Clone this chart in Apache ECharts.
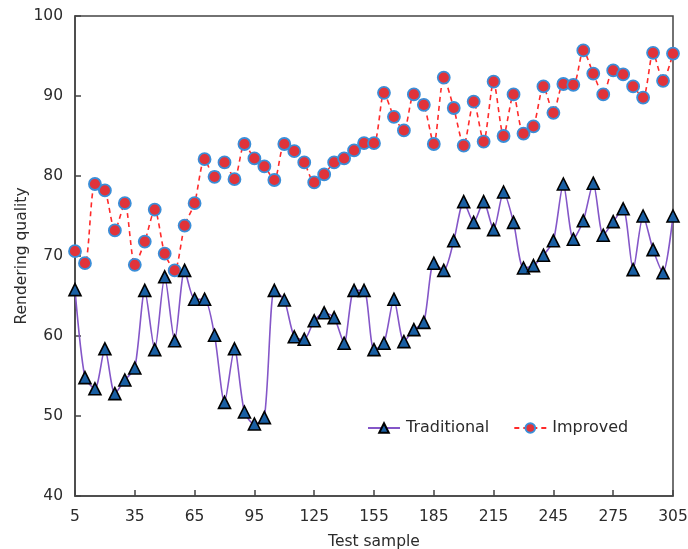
<!DOCTYPE html>
<html>
<head>
<meta charset="utf-8">
<script src="https://cdn.jsdelivr.net/npm/echarts@6/dist/echarts.min.js"></script>
<style>
html,body{margin:0;padding:0;background:#fff;}
#chart{width:688px;height:549px;}
</style>
</head>
<body>
<div id="chart"></div>
<script>
var categories = [5,10,15,20,25,30,35,40,45,50,55,60,65,70,75,80,85,90,95,100,105,110,115,120,125,130,135,140,145,150,155,160,165,170,175,180,185,190,195,200,205,210,215,220,225,230,235,240,245,250,255,260,265,270,275,280,285,290,295,300,305];
var traditional = [65.8,54.8,53.4,58.4,52.8,54.5,56.0,65.7,58.3,67.4,59.4,68.2,64.6,64.6,60.1,51.7,58.4,50.5,49.0,49.8,65.7,
  64.5,59.9,59.6,61.9,62.9,62.3,59.1,65.7,65.7,58.3,59.1,64.6,59.3,60.8,61.7,69.1,68.2,71.9,
  76.8,74.2,76.8,73.3,78.0,74.2,68.5,68.8,70.1,71.9,79.0,72.1,74.4,79.1,72.6,74.3,75.9,68.3,75.0,70.8,67.9,75.0];
var improved = [70.6,69.1,79.0,78.2,73.2,76.6,68.9,71.8,75.8,70.3,68.2,73.8,76.6,82.1,79.9,81.7,79.6,84.0,82.2,81.2,79.5,
  84.0,83.1,81.7,79.2,80.2,81.7,82.2,83.2,84.1,84.1,90.4,87.4,85.7,90.2,88.9,84.0,92.3,88.5,
  83.8,89.3,84.3,91.8,85.0,90.2,85.3,86.2,91.2,87.9,91.5,91.4,95.7,92.8,90.2,93.2,92.7,91.2,89.8,95.4,91.9,95.3];
var seriesNames = ['Traditional','Improved'];
var xAxisName = 'Test sample';
var yAxisName = 'Rendering quality';

var font = 'DejaVu Sans';
var textColor = '#2b2b2b';
var chart = echarts.init(document.getElementById('chart'), null, {renderer:'canvas'});
chart.setOption({
  animation:false,
  backgroundColor:'#fff',
  textStyle:{fontFamily:font},
  grid:{left:75,right:15,top:16,bottom:53,containLabel:false,outerBoundsMode:'none',show:true,borderColor:'#444',borderWidth:1.5,backgroundColor:'transparent'},
  legend:{
    left:362, top:415,
    itemWidth:32, itemHeight:12, itemGap:24,
    textStyle:{fontFamily:font,fontSize:16,color:textColor,padding:[0,0,0,1]},
    data:seriesNames
  },
  xAxis:{
    type:'category', data:categories, boundaryGap:false,
    name:xAxisName, nameLocation:'middle', nameGap:38,
    nameTextStyle:{fontFamily:font,fontSize:15.5,color:textColor},
    axisLine:{lineStyle:{color:'#444',width:1.5}},
    axisTick:{inside:true,length:6,interval:5,lineStyle:{color:'#444',width:1.5}},
    axisLabel:{interval:5,fontFamily:font,fontSize:15.5,color:textColor,margin:13},
    splitLine:{show:false}
  },
  yAxis:{
    type:'value', min:40, max:100, interval:10,
    name:yAxisName, nameLocation:'middle', nameGap:45, nameMoveOverlap:false,
    nameTextStyle:{fontFamily:font,fontSize:15.5,color:textColor},
    axisLine:{show:true,lineStyle:{color:'#444',width:1.5}},
    axisTick:{show:true,inside:true,length:6,lineStyle:{color:'#444',width:1.5}},
    axisLabel:{fontFamily:font,fontSize:15.5,color:textColor,margin:12},
    splitLine:{show:false}
  },
  series:[
    {
      name:seriesNames[0], type:'line', data:traditional, smooth:0.25,
      showAllSymbol:true,
      symbol:'triangle', symbolSize:12,
      lineStyle:{color:'#8456c8',width:1.6},
      itemStyle:{color:'#1a5fa3',borderColor:'#000',borderWidth:1.6},
      z:3
    },
    {
      name:seriesNames[1], type:'line', data:improved, smooth:0.25,
      showAllSymbol:true,
      symbol:'circle', symbolSize:12,
      lineStyle:{color:'#ff2a2a',width:1.6,type:[5,4]},
      itemStyle:{color:'#e0333a',borderColor:'#3a8ed8',borderWidth:1.8},
      z:2
    }
  ]
});
</script>
</body>
</html>
